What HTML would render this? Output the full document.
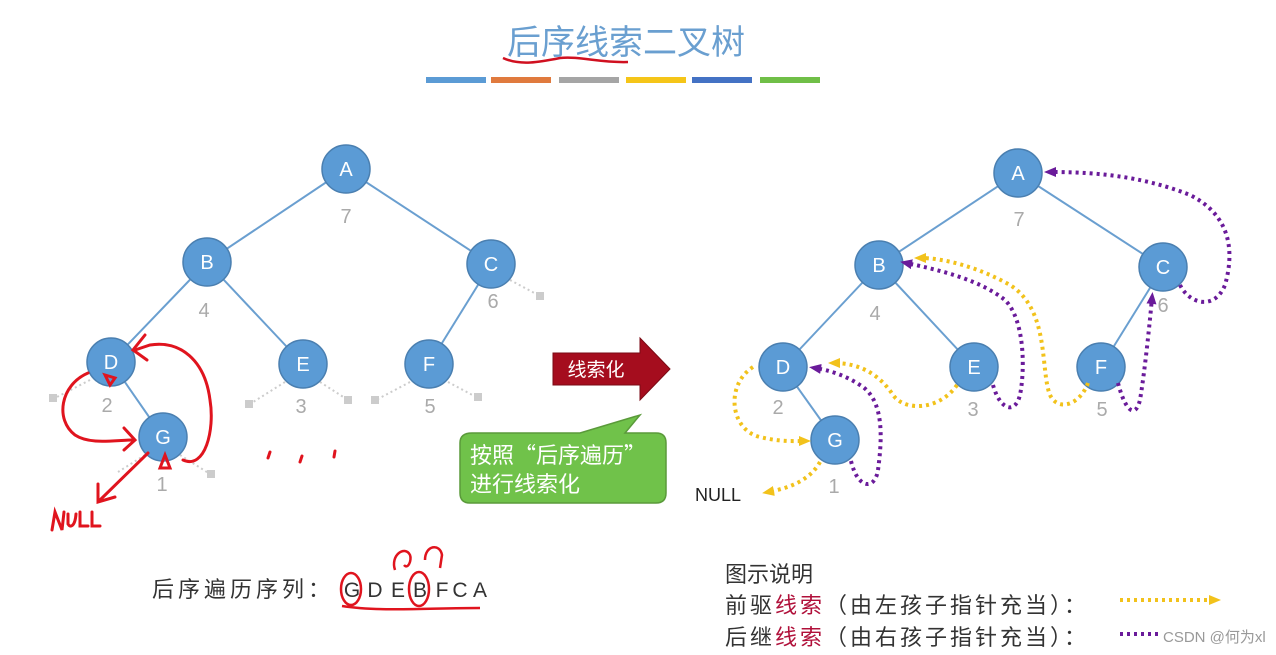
<!DOCTYPE html>
<html><head><meta charset="utf-8"><style>
html,body{margin:0;padding:0;background:#fff;}
svg{display:block;}
text{font-family:"Liberation Sans","Noto Sans CJK SC",sans-serif;}
.cjk{font-family:"Noto Sans CJK SC",sans-serif;}
</style></head><body>
<svg width="1276" height="655" viewBox="0 0 1276 655" xmlns="http://www.w3.org/2000/svg">
<defs>
<marker id="ay" markerWidth="12" markerHeight="12" refX="6" refY="6" orient="auto" markerUnits="userSpaceOnUse" viewBox="0 0 12 12"><path d="M0,1 L12,6 L0,11 z" fill="#f2c21b"/></marker>
<marker id="ap" markerWidth="12" markerHeight="12" refX="6" refY="6" orient="auto" markerUnits="userSpaceOnUse" viewBox="0 0 12 12"><path d="M0,1 L12,6 L0,11 z" fill="#6a1b9a"/></marker>
</defs>
<text x="626" y="54" text-anchor="middle" font-size="34" fill="#6a9fd0">后序线索二叉树</text>
<path d="M503,58 C520,66 540,62 560,58 C580,56 600,63 628,62" stroke="#d01020" stroke-width="2.5" fill="none"/>
<g>
<rect x="426" y="77" width="60" height="6" fill="#5b9bd5"/>
<rect x="491" y="77" width="60" height="6" fill="#e07a3e"/>
<rect x="559" y="77" width="60" height="6" fill="#a5a5a5"/>
<rect x="626" y="77" width="60" height="6" fill="#f5c518"/>
<rect x="692" y="77" width="60" height="6" fill="#4472c4"/>
<rect x="760" y="77" width="60" height="6" fill="#70bf47"/>
</g>
<g stroke="#6a9fd0" stroke-width="2">
<line x1="346" y1="169" x2="207" y2="262"/><line x1="346" y1="169" x2="491" y2="264"/>
<line x1="207" y1="262" x2="111" y2="362"/><line x1="207" y1="262" x2="303" y2="364"/>
<line x1="491" y1="264" x2="429" y2="364"/><line x1="111" y1="362" x2="163" y2="437"/>
</g>
<g stroke="#ccc" stroke-width="2" stroke-dasharray="2 3">
<line x1="510" y1="280" x2="540" y2="296"/><line x1="90" y1="380" x2="55" y2="398"/>
<line x1="285" y1="382" x2="250" y2="404"/><line x1="320" y1="382" x2="348" y2="400"/>
<line x1="410" y1="382" x2="376" y2="400"/><line x1="448" y1="382" x2="478" y2="398"/>
<line x1="180" y1="455" x2="210" y2="474"/><line x1="145" y1="455" x2="118" y2="472"/>
</g>
<g fill="#ccc">
<rect x="536" y="292" width="8" height="8"/><rect x="49" y="394" width="8" height="8"/>
<rect x="245" y="400" width="8" height="8"/><rect x="344" y="396" width="8" height="8"/>
<rect x="371" y="396" width="8" height="8"/><rect x="474" y="393" width="8" height="8"/>
<rect x="207" y="470" width="8" height="8"/>
</g>
<g fill="#5b9bd5" stroke="#4a7fb0" stroke-width="1.5">
<circle cx="346" cy="169" r="24"/><circle cx="207" cy="262" r="24"/><circle cx="491" cy="264" r="24"/>
<circle cx="111" cy="362" r="24"/><circle cx="303" cy="364" r="24"/><circle cx="429" cy="364" r="24"/>
<circle cx="163" cy="437" r="24"/>
</g>
<g fill="#fff" font-size="20" text-anchor="middle">
<text x="346" y="176">A</text><text x="207" y="269">B</text><text x="491" y="271">C</text>
<text x="111" y="369">D</text><text x="303" y="371">E</text><text x="429" y="371">F</text><text x="163" y="444">G</text>
</g>
<g fill="#aaa" font-size="20" text-anchor="middle">
<text x="346" y="223">7</text><text x="204" y="317">4</text><text x="493" y="308">6</text>
<text x="107" y="412">2</text><text x="301" y="413">3</text><text x="430" y="413">5</text><text x="162" y="491">1</text>
</g>
<g stroke="#e0141e" stroke-width="3" fill="none" stroke-linecap="round">
<path d="M88,373 C60,385 55,420 75,435 C90,445 115,440 133,440"/>
<path d="M124,428 L135,440 L124,450"/>
<path d="M183,460 C205,470 215,430 210,400 C205,360 180,340 150,345 L135,350"/>
<path d="M145,335 L133,350 L147,360"/>
<path d="M148,453 L100,500"/><path d="M98,484 L98,502 L115,497"/>
<path d="M105,375 L110,385 L115,378 z"/>
<path d="M160,468 L165,455 L170,468 z"/>
<path d="M52,530 L55,512 L62,530 L64,512 M68,514 L68,524 C70,528 75,527 76,514 M80,512 L80,526 L88,526 M92,512 L92,526 L100,526"/>
<path d="M268,458 L270,452 M300,462 L302,456 M334,457 L335,451"/>
</g>
<path d="M553,353 L640,353 L640,338 L670,369 L640,400 L640,385 L553,385 z" fill="#a50d1e" stroke="#7a0a14" stroke-width="1"/>
<text x="596" y="376" text-anchor="middle" font-size="19" fill="#fff">线索化</text>
<path d="M472,433 L580,433 L640,415 L625,433 L656,433 Q666,433 666,443 L666,493 Q666,503 656,503 L470,503 Q460,503 460,493 L460,443 Q460,433 472,433 z" fill="#70c24a" stroke="#5a9a3a" stroke-width="1.5"/>
<text class="cjk" x="470" y="463" font-size="22" fill="#fff">按照“后序遍历”</text>
<text class="cjk" x="470" y="492" font-size="22" fill="#fff">进行线索化</text>
<g stroke="#6a9fd0" stroke-width="2">
<line x1="1018" y1="173" x2="879" y2="265"/><line x1="1018" y1="173" x2="1163" y2="267"/>
<line x1="879" y1="265" x2="783" y2="367"/><line x1="879" y1="265" x2="974" y2="367"/>
<line x1="1163" y1="267" x2="1101" y2="367"/><line x1="783" y1="367" x2="835" y2="440"/>
</g>
<g fill="#5b9bd5" stroke="#4a7fb0" stroke-width="1.5">
<circle cx="1018" cy="173" r="24"/><circle cx="879" cy="265" r="24"/><circle cx="1163" cy="267" r="24"/>
<circle cx="783" cy="367" r="24"/><circle cx="974" cy="367" r="24"/><circle cx="1101" cy="367" r="24"/>
<circle cx="835" cy="440" r="24"/>
</g>
<g fill="#fff" font-size="20" text-anchor="middle">
<text x="1018" y="180">A</text><text x="879" y="272">B</text><text x="1163" y="274">C</text>
<text x="783" y="374">D</text><text x="974" y="374">E</text><text x="1101" y="374">F</text><text x="835" y="447">G</text>
</g>
<g fill="#aaa" font-size="20" text-anchor="middle">
<text x="1019" y="226">7</text><text x="875" y="320">4</text><text x="1163" y="312">6</text>
<text x="778" y="414">2</text><text x="973" y="416">3</text><text x="1102" y="416">5</text><text x="834" y="493">1</text>
</g>
<text x="695" y="501" font-size="18" fill="#222">NULL</text>
<g fill="none" stroke-width="4" stroke-dasharray="3 4">
<g stroke="#f2c21b">
<path d="M820,462 C810,480 790,488 768,492" marker-end="url(#ay)"/>
<path d="M753,367 C725,385 730,430 760,437 C780,442 795,441 805,441" marker-end="url(#ay)"/>
<path d="M957,385 C940,410 905,412 893,395 C880,375 860,363 834,363" marker-end="url(#ay)"/>
<path d="M1088,383 C1080,405 1058,412 1050,395 C1040,370 1050,310 1010,285 C980,268 945,258 920,258" marker-end="url(#ay)"/>
<path d="M1120,600 L1215,600" marker-end="url(#ay)"/>
</g>
<g stroke="#6a1b9a">
<path d="M851,461 C858,490 875,490 878,470 C882,440 885,400 860,385 C845,375 828,370 815,368" marker-end="url(#ap)"/>
<path d="M993,385 C1000,410 1015,415 1020,395 C1025,370 1025,320 1005,300 C980,280 940,270 906,263" marker-end="url(#ap)"/>
<path d="M1118,383 C1125,410 1135,420 1140,400 C1145,370 1150,320 1152,298" marker-end="url(#ap)"/>
<path d="M1180,285 C1190,305 1215,310 1225,285 C1235,250 1230,215 1190,195 C1140,175 1090,172 1050,172" marker-end="url(#ap)"/>
<path d="M1120,634 L1160,634"/>
</g>
</g>
<text class="cjk" x="152" y="597" font-size="22" fill="#333" letter-spacing="4">后序遍历序列：</text>
<g font-size="21" fill="#333" text-anchor="middle">
<text x="352" y="597">G</text><text x="375" y="597">D</text><text x="398" y="597">E</text><text x="420" y="597">B</text><text x="442" y="597">F</text><text x="460" y="597">C</text><text x="480" y="597">A</text>
</g>
<g stroke="#e0141e" stroke-width="2.5" fill="none">
<ellipse cx="351" cy="589" rx="10" ry="16"/>
<ellipse cx="419" cy="589" rx="10" ry="17"/>
<path d="M342,606 C380,612 430,608 480,608"/>
<path d="M395,570 C390,555 405,545 410,555 C412,560 408,570 404,565"/>
<path d="M425,560 C425,545 440,543 442,555 L440,568"/>
</g>
<g class="cjk" font-size="22" fill="#333">
<text class="cjk" x="725" y="582">图示说明</text>
<text class="cjk" x="725" y="613" letter-spacing="3">前驱<tspan fill="#b0103a">线索</tspan>（由左孩子指针充当）：</text>
<text class="cjk" x="725" y="645" letter-spacing="3">后继<tspan fill="#b0103a">线索</tspan>（由右孩子指针充当）：</text>
</g>
<text x="1163" y="642" font-size="15" fill="#999">CSDN @何为xl</text>
</svg>
</body></html>
